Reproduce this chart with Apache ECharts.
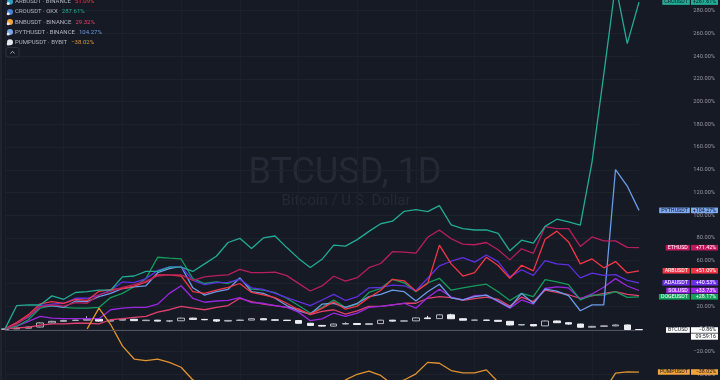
<!DOCTYPE html>
<html><head><meta charset="utf-8">
<script src="https://cdn.jsdelivr.net/npm/echarts/dist/echarts.min.js"></script>
<style>html,body{margin:0;padding:0;background:#161a25;width:720px;height:380px;overflow:hidden;position:relative;}#c{position:absolute;left:0;top:-15px;width:720px;height:415px;}</style>
</head><body><div id="c"></div>
<script>
const categories = ['Jul 7','Jul 8','Jul 9','Jul 10','Jul 11','Jul 12','Jul 13','Jul 14','Jul 15','Jul 16','Jul 17','Jul 18','Jul 19','Jul 20','Jul 21','Jul 22','Jul 23','Jul 24','Jul 25','Jul 26','Jul 27','Jul 28','Jul 29','Jul 30','Jul 31',
 'Aug 1','Aug 2','Aug 3','Aug 4','Aug 5','Aug 6','Aug 7','Aug 8','Aug 9','Aug 10','Aug 11','Aug 12','Aug 13','Aug 14','Aug 15','Aug 16','Aug 17','Aug 18','Aug 19','Aug 20','Aug 21','Aug 22','Aug 23','Aug 24','Aug 25','Aug 26','Aug 27','Aug 28','Aug 29','Aug 30'];

const cro  = [0,20.5,21,21,29,26,32,32.7,34,34,45.7,46.5,50.5,50.5,54.3,54.3,50.5,57.2,63.9,76,79.7,70.8,80,81.7,71.5,62,54,61.2,73.7,72.8,78.5,85.8,92.5,94.8,103.4,104.9,103.2,108.4,91.5,88.2,87,87,84,68.7,78,75.4,90.2,96.5,94.2,91.3,147,224,303,251,287.61];
const eth  = [0,4,11,19.5,21,20,23,22.5,30,33,36.5,39,42,46.5,47.5,47.5,42.7,45.7,46.8,47.5,52.3,49.4,49.4,50,46.8,40,33.3,37.8,46.3,42,45,53.8,57.5,67.9,67.6,66.6,80.6,87,79.3,74.5,74,76,69.6,60.7,70.5,66.5,89.9,88.2,88.2,72.5,80.9,77.4,77.4,71.7,71.42];
const arb  = [0,5.5,12.5,22,24,22.5,26,25,33,34.5,35.5,37.5,41,47.5,47.5,46.5,32.7,31.2,34,36.5,39.9,32,29.8,27.5,22.5,16.8,12.9,18,23.7,17.3,20,27.5,34,43.6,42.3,33.2,40,73.7,57.2,46.5,49.4,63,55.8,44.5,56,51,78.9,86,76.5,57.2,61.5,53.7,59.2,49.2,51.09];
const ada  = [0,5.2,11,20.5,21.7,22.5,26.9,26.9,29.7,34,41.3,40.7,44.2,51.4,54.3,54.9,42.7,39,40.7,40.9,43.6,36.1,34.7,31.2,27.5,24,20.5,25.4,30.3,24.9,28.3,36.1,36.4,38.4,37.9,33.5,44.5,55.5,59.5,62.6,58.7,65,59.2,45.7,52,47,60,57.2,56.3,44.8,49.1,47,47.7,42.7,40.53];
const pyth = [0,5,10.5,19.7,20.5,18.8,24.5,24,28.3,31.2,35.5,37,37.9,49.4,52.9,54.9,36.1,29.7,32.7,34.8,44.8,32.7,31.2,26.9,20.5,15.9,13,21.7,22.5,18.8,22.5,28.3,30.3,34,32.7,24.5,32.7,39.2,27.2,25.4,28.3,29.7,24.5,18.8,31.2,22.5,34.9,33.2,29.2,15.9,21.1,21.1,140.2,125.7,104.27];
const doge = [0,2.3,8,18.2,20.5,18.8,18.2,18.2,18.8,27.5,31.2,37,44.2,63,62.2,61.5,44.2,39.9,41.3,39.9,44.2,34.9,34,31.8,26.9,20.5,13.9,18.8,25.4,18.8,21.7,32,35.5,43.6,40.5,32.7,40.5,44.5,34,36.1,37.9,39.3,32.7,24.9,31.2,28.3,43.3,41.3,39,25.4,29.7,29.7,32.7,27.7,28.17];
const sol  = [0,2.3,6.6,11,9.5,8.9,8.9,8.9,8.9,16.8,18.2,18.8,18.8,21.7,31.2,37.9,26.9,23.4,24.5,25,27.5,23.1,22.5,20.5,18.8,14.7,7.2,8.7,13.9,11,13.9,18.8,19.7,21.1,22.5,18.2,27.5,34.8,27.9,25.4,29.2,29.7,24,18.2,25.4,21.7,35.5,37,36,26.3,30.7,36.6,44.2,37.7,33.73];
const bnb  = [0,0.9,1.4,3.2,4.3,4.3,4.9,4.9,4.3,8,8.9,10.1,11,14.7,16.8,19.7,18.2,16.8,18.8,20.5,26.9,24,21.7,20.5,18.8,17.6,12.4,15.3,16.8,13,15.9,19.7,19.7,21.1,22.5,22.5,26.9,28.3,27.5,25,26.5,28,26,20,28,24,34,32,30,26.9,29,31.2,32.7,30.3,29.32];
const pump = [null,null,null,null,null,null,null,0,18.2,3.8,-15,-26.6,-28,-26.6,-29.5,-33.8,-45,-50,-53,-55,-52,-56,-58,-57,-58,-59,-58,-56,-52,-45,-40,-37.3,-41,-49,-45,-39.6,-29.5,-30.3,-36.7,-38.7,-38.7,-36.1,-46.8,-52,-55,-53,-50,-52,-56,-58,-57,-55,-39,-37.9,-38.02];

const btcOpen  = [-0.5,0,0.6,1.6,5.2,6.6,7.4,7.6,8.4,6.8,7.6,8.4,7.2,7.6,6.8,7.1,9.4,8.3,8.0,6.8,7.4,7.7,8.9,7.9,7.6,7.3,4.9,3.0,2.4,4.2,4.7,3.8,4.6,7.6,6.8,7.0,9.6,9.0,12.3,8.9,7.6,7.7,7.5,6.6,3.4,3.8,2.6,6.9,5.4,4.2,1.4,2.2,2.6,3.4,-0.6];
const btcClose = [0,0.6,1.6,5.2,6.6,7.4,7.6,8.4,6.8,7.6,8.4,7.2,7.6,6.8,7.1,9.4,8.3,8.0,6.8,7.4,7.7,8.9,7.9,7.6,7.3,4.9,3.0,2.4,4.2,4.7,3.8,4.6,7.6,6.8,7.0,9.6,9.0,12.3,8.9,7.6,7.7,7.5,6.6,3.4,3.8,2.6,6.9,5.4,4.2,1.4,2.2,2.6,3.4,-0.6,-0.86];
const btcHigh  = [0.3,1.0,2.0,5.7,7.1,7.9,8.1,11.2,8.8,8.0,8.9,8.7,8.0,7.9,7.5,9.8,9.8,8.7,8.3,7.8,8.1,9.3,9.2,8.2,7.9,7.6,5.2,3.4,4.6,5.8,5.0,5.0,8.0,7.9,7.4,10.0,11.4,12.8,13.3,9.2,8.0,8.0,7.8,6.9,4.2,4.1,7.3,7.2,5.7,4.5,2.6,3.0,3.8,3.7,-0.3];
const btcLow   = [-0.8,-0.2,0.3,1.3,4.9,6.2,7.0,7.3,6.4,6.5,7.3,6.9,6.9,6.5,5.8,6.9,8.0,7.6,6.0,6.5,7.1,7.5,7.6,7.2,6.9,4.6,2.6,2.0,2.2,3.9,3.4,3.5,4.3,6.4,6.6,6.8,8.6,8.8,8.6,7.3,7.4,7.2,6.2,3.1,3.0,2.3,2.4,5.1,3.6,1.0,1.1,1.9,2.3,-1.0,-1.1];

const legendNames = ['ARBUSDT · BINANCE','CROUSDT · OKX','BNBUSDT · BINANCE','PYTHUSDT · BINANCE','PUMPUSDT · BYBIT'];
const legendData = [arb, cro, bnb, pyth, pump];
const legendColors = ['#f23645','#22ab94','#e2406e','#6a9be6','#e0932e'];
const legendIcons = ['#2d9fc4','#4b7fd0','#f0a73a','#7aa6e8','#e6e8ee'];
const btcTime = '09:59:16';

const FONT = 'Roboto, "Noto Sans", sans-serif';
const BG = '#161a25';
const OY = 15; // the chart canvas starts 15px above the visible page
const last = a => a[a.length - 1];
const signed = v => (v < 0 ? '\u2212' : '+') + Math.abs(v).toFixed(2) + '%';
const plain = v => (v < 0 ? '\u2212' : '') + Math.abs(v).toFixed(2) + '%';

function richFor(bg, fg) {
  return {
    n: {backgroundColor: bg, color: fg, fontSize: 5.3, fontFamily: FONT, lineHeight: 6.6, padding: [0.4, 2, 0.2, 2]},
    g: {width: 1.2, lineHeight: 6.6},
    v: {backgroundColor: bg, color: fg, fontSize: 5.3, fontFamily: FONT, lineHeight: 6.6, padding: [0.4, 2, 0.2, 2], width: 23, align: 'right'},
    t: {backgroundColor: bg, color: fg, fontSize: 5.3, fontFamily: FONT, lineHeight: 6.6, padding: [0.4, 2, 0.8, 2], width: 23, align: 'right'}
  };
}

function lineSeries(name, data, color, label, labelBg, labelFg) {
  const s = {
    type: 'line', name, data, symbol: 'none', showSymbol: false,
    lineStyle: {color, width: 1.3}, itemStyle: {color}, z: 3,
    emphasis: {disabled: true}
  };
  if (label) {
    s.endLabel = {
      show: true, distance: 79, align: 'right', verticalAlign: 'middle',
      formatter: p => '{n|' + name + '}{g|}{v|' + signed(p.value) + '}',
      rich: richFor(labelBg, labelFg)
    };
  }
  return s;
}

const graphics = [
  {type: 'line', shape: {x1: 1, y1: OY, x2: 1, y2: OY + 380}, style: {stroke: '#2a2e39', lineWidth: 1}, z: 1},
  {type: 'text', x: 345, y: OY + 174, z: 0, style: {text: 'BTCUSD, 1D', fontSize: 36, fontFamily: FONT, fill: '#252935', align: 'center', verticalAlign: 'middle'}},
  {type: 'text', x: 346, y: OY + 201, z: 0, style: {text: 'Bitcoin / U.S. Dollar', fontSize: 15, fontFamily: FONT, fill: '#252935', align: 'center', verticalAlign: 'middle'}},
  {type: 'rect', shape: {x: 6, y: OY + 47.5, width: 13, height: 9.5, r: 2}, style: {fill: BG, stroke: '#2f3340', lineWidth: 1}, z: 10},
  {type: 'polyline', shape: {points: [[10.5, OY + 53.5], [12.5, OY + 51.3], [14.5, OY + 53.5]]}, style: {stroke: '#b2b5be', lineWidth: 0.9, fill: null}, z: 11}
];
legendNames.forEach((nm, r) => {
  const y = OY + 1.8 + r * 10.1;
  graphics.push({type: 'circle', shape: {cx: 10, cy: y, r: 3}, style: {fill: legendIcons[r]}, z: 10});
  graphics.push({type: 'circle', shape: {cx: 8.2, cy: y + 1.8, r: 1.5}, style: {fill: '#e6e8ee'}, z: 11});
  graphics.push({type: 'text', x: 15, y: y, z: 10, style: {
    text: '{n|' + nm + '}{g|}{v|' + plain(last(legendData[r])) + '}',
    verticalAlign: 'middle', align: 'left',
    rich: {
      n: {fontSize: 6, fontFamily: FONT, fill: '#b2b5be'},
      g: {width: 4},
      v: {fontSize: 6, fontFamily: FONT, fill: legendColors[r]}
    }
  }});
});

const chart = echarts.init(document.getElementById('c'), null, {renderer: 'canvas'});
chart.setOption({
  backgroundColor: BG,
  animation: false,
  grid: {left: 5, right: 81, top: 0, bottom: 0, containLabel: false},
  xAxis: {
    type: 'category', data: categories, boundaryGap: false,
    axisLine: {show: false}, axisTick: {show: false}, axisLabel: {show: false},
    splitLine: {show: true, interval: 4, lineStyle: {color: '#1c202b', width: 1}}
  },
  yAxis: {
    type: 'value', position: 'right', min: -60, max: 300, interval: 20,
    axisLine: {show: false}, axisTick: {show: false},
    splitLine: {show: true, lineStyle: {color: '#1e222d', width: 1}},
    axisLabel: {color: '#9598a1', fontSize: 5.7, fontFamily: FONT, align: 'right', margin: 76, formatter: v => plain(v)}
  },
  graphic: graphics,
  series: [
    {
      type: 'candlestick', name: 'BTCUSD', barWidth: 7, z: 2,
      data: btcClose.map((c, i) => [btcOpen[i], c, btcLow[i], btcHigh[i]]),
      itemStyle: {color: BG, color0: '#eceef3', borderColor: '#b2b5be', borderColor0: '#eceef3', borderWidth: 1},
      emphasis: {disabled: true}
    },
    lineSeries('BNBUSDT', bnb, '#e2406e', false),
    lineSeries('SOLUSD', sol, '#9b27e0', true, '#9c27e8', '#ffffff'),
    lineSeries('DOGEUSDT', doge, '#139c5e', true, '#14a35c', '#ffffff'),
    lineSeries('PYTHUSDT', pyth, '#6a9be6', true, '#7eaaf0', '#131722'),
    lineSeries('ADAUSDT', ada, '#5e30e0', true, '#6a2ee8', '#ffffff'),
    lineSeries('ARBUSDT', arb, '#f23645', true, '#f23645', '#ffffff'),
    lineSeries('ETHUSD', eth, '#b81e5c', true, '#c2185b', '#ffffff'),
    lineSeries('PUMPUSDT', pump, '#e0932e', true, '#f2a33a', '#131722'),
    lineSeries('CROUSDT', cro, '#22ab94', true, '#22ab94', '#131722'),
    {
      type: 'line', name: 'BTCUSD-label', data: btcClose, symbol: 'none', showSymbol: false,
      lineStyle: {opacity: 0}, silent: true, z: 4,
      endLabel: {
        show: true, distance: 79, align: 'right', verticalAlign: 'middle', padding: [7, 0, 0, 0],
        formatter: p => '{n|BTCUSD}{g|}{v|' + signed(p.value) + '}\n{t|' + btcTime + '}',
        rich: richFor('#ffffff', '#131722')
      },
      markLine: {
        silent: true, symbol: 'none', label: {show: false},
        lineStyle: {color: '#4e525e', type: 'solid', width: 1},
        data: [{yAxis: last(btcClose)}]
      }
    }
  ]
});
</script>
</body></html>
